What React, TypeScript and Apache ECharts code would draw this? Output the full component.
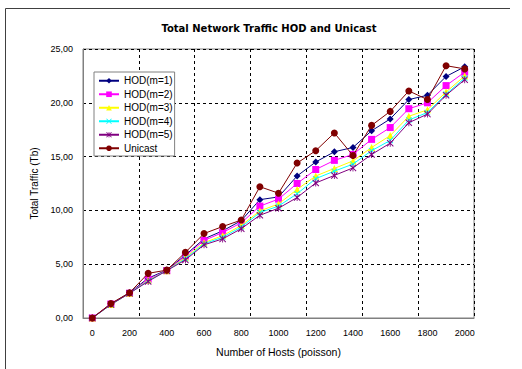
import React, { useEffect, useRef } from "react";
import * as echarts from "echarts";

const categories = ["0","100","200","300","400","500","600","700","800","900","1000","1100","1200","1300","1400","1500","1600","1700","1800","1900","2000"];
const hod1 = [0, 1.3, 2.35, 3.7, 4.45, 5.85, 7.35, 8.1, 9.05, 11.0, 11.25, 13.2, 14.5, 15.45, 15.85, 17.4, 18.5, 20.3, 20.7, 22.45, 23.35];
const hod2 = [0, 1.3, 2.3, 3.6, 4.4, 5.75, 7.2, 7.95, 8.85, 10.4, 11.05, 12.5, 13.8, 14.65, 15.2, 16.6, 17.7, 19.45, 20.0, 21.6, 22.85];
const hod3 = [0, 1.25, 2.3, 3.5, 4.4, 5.6, 7.0, 7.65, 8.6, 9.95, 10.6, 11.95, 13.2, 13.9, 14.6, 15.85, 16.95, 18.75, 19.35, 21.0, 22.5];
const hod4 = [0, 1.25, 2.3, 3.45, 4.4, 5.5, 6.9, 7.5, 8.45, 9.8, 10.4, 11.55, 12.95, 13.65, 14.3, 15.55, 16.5, 18.4, 19.1, 20.8, 22.3];
const hod5 = [0, 1.25, 2.3, 3.4, 4.4, 5.4, 6.8, 7.35, 8.3, 9.55, 10.2, 11.2, 12.55, 13.25, 13.95, 15.2, 16.25, 18.15, 18.95, 20.7, 22.15];
const unicast = [0, 1.35, 2.35, 4.15, 4.45, 6.1, 7.85, 8.5, 9.1, 12.2, 11.6, 14.4, 15.55, 17.2, 15.1, 17.9, 19.2, 21.1, 20.3, 23.45, 23.15];

const seriesNames = ["HOD(m=1)", "HOD(m=2)", "HOD(m=3)", "HOD(m=4)", "HOD(m=5)", "Unicast"];
const seriesData = [hod1, hod2, hod3, hod4, hod5, unicast];
const seriesColors = ["#000080", "#FF00FF", "#FFFF00", "#00FFFF", "#800080", "#800000"];

const xPath = "path://M0,1L1,0L5,4L9,0L10,1L6,5L10,9L9,10L5,6L1,10L0,9L4,5Z";
const starPath = "path://M0,1L1,0L5,4L9,0L10,1L6,5L10,9L9,10L5,6L1,10L0,9L4,5Z M4.4,0L5.6,0L5.6,10L4.4,10Z";
const symbols = ["diamond", "rect", "triangle", xPath, starPath, "circle"];
const symbolSizes = [7, 7, 7, 6, 7, 7];

const FONT = "Liberation Sans, Arial, sans-serif";

export default function App() {
  const ref = useRef<HTMLDivElement>(null);
  useEffect(() => {
    document.body.style.margin = "0";
    const chart = echarts.init(ref.current!, null, { renderer: "svg" });
    chart.setOption({
      animation: false,
      backgroundColor: "#ffffff",
      textStyle: { fontFamily: FONT },
      title: {
        text: "Total Network Traffic HOD and Unicast",
        left: 264,
        textAlign: "center",
        top: 18,
        textStyle: { fontSize: 10, fontWeight: "bold", color: "#000", fontFamily: "DejaVu Sans" },
      },
      graphic: [
        { type: "line", shape: { x1: 5.5, y1: 8.5, x2: 510, y2: 8.5 }, style: { stroke: "#404040", lineWidth: 1 } },
        { type: "line", shape: { x1: 5.5, y1: 8.5, x2: 5.5, y2: 369 }, style: { stroke: "#404040", lineWidth: 1 } },
      ],
      legend: {
        orient: "vertical",
        left: 94,
        top: 72,
        padding: [2, 2, 1, 4],
        itemWidth: 20,
        itemHeight: 7,
        itemGap: 0,
        borderColor: "#808080",
        borderWidth: 1,
        backgroundColor: "#ffffff",
        textStyle: { fontSize: 10, lineHeight: 13.5, color: "#000", fontFamily: FONT },
        data: seriesNames,
      },
      grid: {
        left: 83,
        top: 49,
        right: 48,
        bottom: 51,
        show: true,
        borderColor: "#808080",
        borderWidth: 1,
      },
      xAxis: {
        type: "category",
        data: categories,
        boundaryGap: true,
        name: "Number of Hosts (poisson)",
        nameLocation: "middle",
        nameGap: 28,
        nameTextStyle: { fontSize: 10.5, color: "#000", fontFamily: FONT },
        axisLine: { lineStyle: { color: "#808080", width: 1 } },
        axisTick: { show: false },
        axisLabel: { interval: 1, fontSize: 9, color: "#000", margin: 10, fontFamily: FONT },
        splitLine: { show: true, interval: 2, lineStyle: { color: "#000", type: [3, 3], width: 1 } },
      },
      yAxis: {
        type: "value",
        min: 0,
        max: 25,
        interval: 5,
        name: "Total Traffic (Tb)",
        nameLocation: "middle",
        nameGap: 41,
        nameTextStyle: { fontSize: 10, color: "#000", fontFamily: FONT },
        axisLine: { show: true, lineStyle: { color: "#808080", width: 1 } },
        axisTick: { show: false },
        axisLabel: {
          fontSize: 9,
          color: "#000",
          margin: 10,
          fontFamily: FONT,
          formatter: (v: number) => v.toFixed(2).replace(".", ","),
        },
        splitLine: { show: true, lineStyle: { color: "#000", type: [3, 3], width: 1 } },
      },
      series: seriesNames.map((name, i) => ({
        name,
        type: "line",
        data: seriesData[i],
        symbol: symbols[i],
        symbolSize: symbolSizes[i],
        showAllSymbol: true,
        color: seriesColors[i],
        itemStyle: { color: seriesColors[i] },
        lineStyle: { color: seriesColors[i], width: 1 },
        z: 2 + i,
      })),
    });
    return () => chart.dispose();
  }, []);
  return <div ref={ref} style={{ width: 522, height: 369 }} />;
}
